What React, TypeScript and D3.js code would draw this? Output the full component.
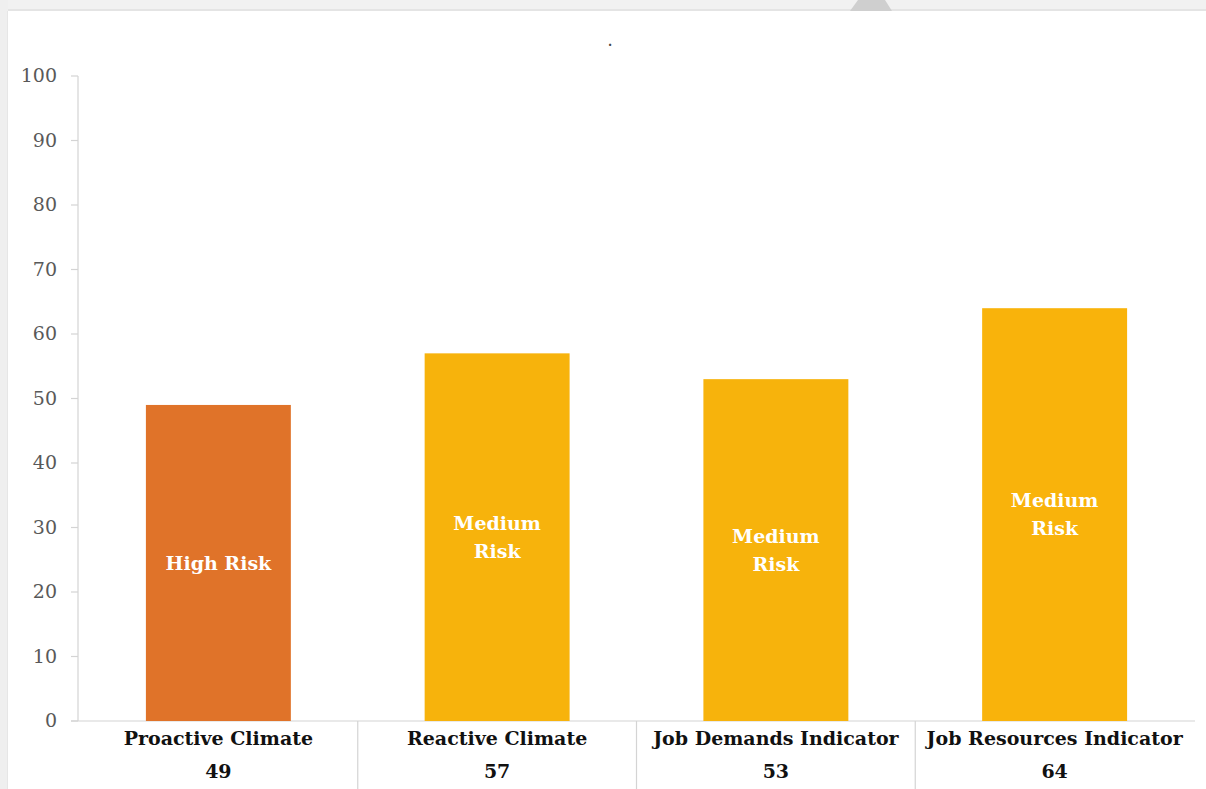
import React from "react";
import * as d3 from "d3";

const categories = ["Proactive Climate", "Reactive Climate", "Job Demands Indicator", "Job Resources Indicator"];
const values = [49, 57, 53, 64];
const riskLabels = [["High Risk"], ["Medium", "Risk"], ["Medium", "Risk"], ["Medium", "Risk"]];
const barColors = ["#E07329", "#F7B30C", "#F7B30C", "#F9B30B"];
const yTicks = [0, 10, 20, 30, 40, 50, 60, 70, 80, 90, 100];

const W = 1206;
const H = 789;
const plotLeft = 78;
const plotRight = 1195;
const plotTop = 76;
const plotBottom = 721;

export default function App() {
  const y = d3.scaleLinear().domain([0, 100]).range([plotBottom, plotTop]);
  const x = d3.scaleBand<string>().domain(categories).range([plotLeft + 1, plotRight - 1]).paddingInner(0).paddingOuter(0);
  const bw = x.bandwidth();
  const barW = bw * 0.52;
  const serif = "'DejaVu Serif', 'Liberation Serif', serif";
  return (
    <svg width={W} height={H} style={{ position: "absolute", left: 0, top: 0, background: "#fff" }}>
      {/* frame */}
      <rect x={0} y={0} width={W} height={H} fill="#ffffff" />
      <rect x={0} y={0} width={W} height={11} fill="#f1f1f1" />
      <rect x={0} y={9} width={W} height={2} fill="#e4e4e4" />
      <rect x={0} y={0} width={8} height={H} fill="#efefef" />
      <rect x={7} y={11} width={1} height={H} fill="#e6e6e6" />
      <path d="M850,11 L858,0 L885,0 L892,11 Z" fill="#cfcfcf" />
      {/* title dot */}
      <text x={610} y={46} textAnchor="middle" fontFamily={serif} fontWeight="bold" fontSize={12} fill="#444">.</text>
      {/* y axis */}
      <line x1={plotLeft} x2={plotLeft} y1={plotTop} y2={plotBottom} stroke="#d4d4d4" strokeWidth={1.2} />
      {yTicks.map((t) => (
        <g key={t}>
          <line x1={plotLeft - 7} x2={plotLeft} y1={y(t)} y2={y(t)} stroke="#d4d4d4" strokeWidth={1.2} />
          <text x={plotLeft - 21} y={y(t)} dy="0.33em" textAnchor="end" fontFamily={serif} fontSize={19} fill="#595959">{t}</text>
        </g>
      ))}
      {/* x axis */}
      <line x1={plotLeft - 7} x2={plotRight} y1={plotBottom} y2={plotBottom} stroke="#d4d4d4" strokeWidth={1.2} />
      {categories.slice(1).map((c) => (
        <line key={c} x1={x(c)!} x2={x(c)!} y1={plotBottom} y2={H} stroke="#d4d4d4" strokeWidth={1.2} />
      ))}
      {/* bars */}
      {categories.map((c, i) => {
        const cx = x(c)! + bw / 2;
        const top = y(values[i]);
        const mid = (top + plotBottom) / 2;
        const lines = riskLabels[i];
        return (
          <g key={c}>
            <rect x={cx - barW / 2} y={top} width={barW} height={plotBottom - top} fill={barColors[i]} />
            {lines.map((l, j) => (
              <text key={j} x={cx} y={mid + (j - (lines.length - 1) / 2) * 28} dy="0.35em" textAnchor="middle"
                fontFamily={serif} fontWeight="bold" fontSize={19} fill="#ffffff">{l}</text>
            ))}
            <text x={cx} y={738} dy="0.35em" textAnchor="middle" fontFamily={serif} fontWeight="bold" fontSize={19} fill="#111">{c}</text>
            <text x={cx} y={771} dy="0.35em" textAnchor="middle" fontFamily={serif} fontWeight="bold" fontSize={19} fill="#111">{values[i]}</text>
          </g>
        );
      })}
    </svg>
  );
}
